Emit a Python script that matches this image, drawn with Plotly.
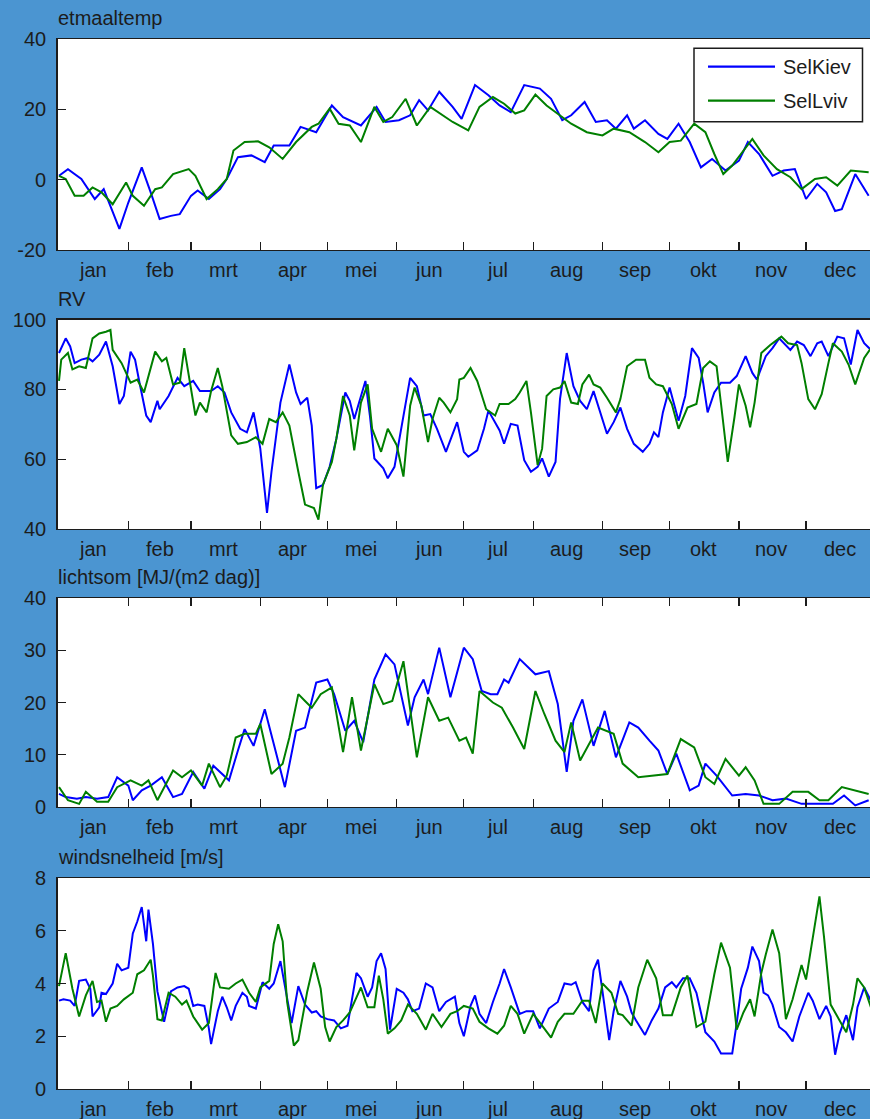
import plotly.graph_objects as go

# ---------------- data ----------------
months = ["jan", "feb", "mrt", "apr", "mei", "jun", "jul", "aug", "sep", "okt", "nov", "dec"]
month_start = [1, 32, 60, 91, 121, 152, 182, 213, 244, 274, 305, 335]
month_mid = [16, 46, 74.5, 105.5, 136, 166.5, 197, 228, 258.5, 289, 319.5, 350]
series_names = ["SelKiev", "SelLviv"]

# etmaaltemp
temp_kiev_day = [1, 5, 11, 17, 21, 28, 32, 38, 42, 46, 51, 55, 60, 63, 68, 73, 76, 81, 87, 93,
                 97, 104, 109, 116, 123, 128, 136, 143, 147, 153, 158, 162, 166, 171, 177, 181,
                 187, 193, 198, 203, 209, 216, 221, 226, 230, 236, 241, 246, 250, 255, 258, 263,
                 269, 273, 278, 283, 288, 293, 299, 305, 309, 314, 320, 325, 330, 335, 340, 344,
                 348, 351, 357, 363]
temp_kiev = [1.1, 3, 0.2, -5.5, -2.7, -14, -6.5, 3.5, -3.6, -11.2, -10.3, -9.8, -4.6, -3.1, -5.5,
             -2.7, 0.2, 6.4, 6.9, 5, 9.7, 9.7, 15, 13.5, 21.1, 17.8, 15.4, 20.7, 16.4, 16.9, 18.3,
             22.6, 19.7, 25, 20.7, 17.3, 26.9, 24, 21.1, 19.2, 26.9, 25.9, 23, 16.9, 18.3, 22.1,
             16.4, 16.9, 14.5, 18.3, 14.5, 16.9, 13, 11.6, 15.9, 10.7, 3.5, 5.9, 2.6, 5.4, 10.7,
             7.3, 1.1, 2.6, 3, -5.5, -1.2, -3.6, -8.9, -8.4, 1.6, -4.6]
temp_lviv_day = [1, 4, 8, 12, 16, 20, 25, 31, 34, 39, 44, 47, 52, 59, 62, 67, 72, 76, 79, 84,
                 90, 95, 101, 107, 114, 117, 122, 126, 131, 136, 142, 146, 150, 156, 161, 167,
                 177, 184, 189, 195, 200, 205, 209, 214, 219, 224, 230, 237, 244, 249, 256, 263,
                 269, 274, 279, 285, 290, 294, 298, 302, 311, 316, 322, 328, 333, 339, 344, 349,
                 355, 363]
temp_lviv = [1.1, 0.2, -4.6, -4.6, -2.2, -3.6, -7, -0.8, -4.6, -7.4, -2.7, -2.2, 1.6, 3, 1.1,
             -5.5, -2.7, 0.2, 8.3, 10.7, 10.9, 9.2, 5.9, 10.7, 15, 15.9, 20.2, 15.9, 15.4, 10.7,
             20.7, 16.4, 17.8, 23, 15.4, 20.7, 16.4, 14, 20.7, 23.5, 21.6, 18.8, 19.7, 24.2, 21.1,
             18.8, 15.9, 13.5, 12.6, 14.5, 13.5, 10.7, 7.8, 10.7, 11.1, 15.9, 13.5, 7.3, 1.6, 4,
             11.6, 6.9, 3, 0.7, -2.7, 0.2, 0.7, -1.7, 2.6, 2.1]

# RV
rv_kiev_day = [1, 4, 6, 8, 11, 14, 16, 19, 22, 25, 28, 30, 33, 35, 37, 40, 42, 45, 46, 50, 54,
               57, 61, 64, 69, 72, 75, 78, 82, 85, 88, 91, 94, 96, 100, 104, 107, 109, 112, 114,
               116, 119, 122, 125, 129, 131, 133, 138, 140, 142, 146, 148, 151, 155, 158, 161,
               164, 167, 170, 174, 179, 182, 184, 188, 191, 193, 196, 198, 200, 203, 206, 209,
               212, 215, 217, 220, 223, 225, 228, 231, 234, 237, 240, 243, 246, 249, 252, 255,
               258, 262, 265, 267, 269, 271, 274, 278, 281, 284, 287, 289, 291, 294, 297, 301,
               304, 308, 311, 313, 317, 320, 323, 328, 331, 334, 337, 340, 342, 345, 349, 352,
               355, 358, 361, 364]
rv_kiev = [90.4, 94.6, 92.3, 87.5, 88.5, 89, 88, 89.9, 93.7, 86.6, 75.8, 78.1, 90.8, 88.5, 81.9,
           72.5, 70.6, 76.7, 74.3, 78.1, 83.3, 80.9, 82.4, 79.5, 79.5, 80.9, 79.1, 73.4, 68.7,
           67.7, 73.4, 63, 44.6, 56.4, 76.2, 87.1, 79.1, 75.8, 77.6, 69.6, 51.7, 52.6, 57.8,
           65.8, 79.1, 76.7, 71.5, 82.4, 72.5, 60.2, 57.4, 54.5, 57.8, 72.5, 83.3, 80.9, 72.5,
           72.9, 68.7, 62.1, 70.6, 62.1, 60.7, 62.5, 68.7, 73.9, 70.6, 68.2, 64.4, 70.1, 69.6,
           59.7, 56.4, 57.8, 60.2, 55, 59.2, 77.2, 90.4, 80.9, 76.7, 74.3, 79.5, 73.4, 67.3,
           70.6, 74.8, 68.7, 64.4, 62.1, 64.4, 67.7, 66.3, 73.4, 80.5, 71, 78.1, 91.8, 89, 81.9,
           73.4, 79.1, 81.9, 81.9, 83.8, 89.5, 84.7, 82.8, 89.5, 91.8, 94.6, 91.3, 93.7, 92.7,
           89.5, 93.2, 93.7, 89.5, 95.1, 94.6, 87.1, 97, 93.2, 91.3]
rv_lviv_day = [1, 2, 5, 7, 10, 13, 16, 19, 22, 24, 25, 29, 33, 36, 39, 42, 44, 47, 49, 52, 55,
               57, 59, 62, 64, 67, 69, 72, 74, 76, 78, 81, 85, 89, 92, 95, 98, 101, 104, 108,
               111, 115, 117, 119, 123, 125, 128, 131, 133, 136, 139, 141, 145, 148, 152, 155,
               158, 160, 163, 166, 168, 171, 173, 176, 179, 180, 182, 185, 188, 192, 196, 198,
               202, 205, 207, 210, 212, 215, 217, 219, 222, 225, 227, 230, 233, 235, 238, 240,
               243, 246, 250, 252, 255, 259, 263, 265, 268, 271, 275, 278, 282, 286, 289, 292,
               295, 297, 300, 303, 305, 308, 310, 312, 315, 319, 324, 327, 331, 333, 336, 339,
               342, 345, 347, 351, 354, 357, 361, 364]
rv_lviv = [82.4, 88.5, 90.4, 85.7, 86.6, 86.1, 94.6, 96, 96.5, 97, 91.3, 87.5, 81.9, 82.8, 79.1,
           86.6, 90.8, 88, 89, 81.4, 81.9, 91.8, 83.8, 72.5, 76.2, 73.4, 79.5, 86.1, 80.9, 74.3,
           66.8, 64.4, 64.9, 66.3, 64.4, 71.5, 70.6, 73.4, 69.6, 56.4, 47, 46, 42.7, 52.6, 59.2,
           65.8, 78.1, 72.5, 62.5, 76.2, 81.4, 68.7, 62.1, 68.7, 64, 55, 75.3, 80.5, 75.3, 64.9,
           71.5, 77.6, 76.2, 73.4, 77.2, 82.8, 83.3, 86.1, 82.4, 74.3, 72.5, 75.8, 75.8, 77.2,
           79.1, 82.4, 73.4, 58.3, 63, 78.1, 80, 80.5, 82.4, 76.2, 75.8, 81.4, 84.2, 81.4, 80.5,
           77.6, 73.4, 77.2, 86.6, 88.5, 88.5, 83.3, 81.4, 80.9, 75.8, 68.7, 74.8, 75.8, 86.1,
           88, 86.6, 75.8, 59.2, 72, 81.4, 75.3, 69.1, 76.2, 90.4, 92.7, 95.1, 93.2, 92.7, 87.5,
           77.2, 74.3, 78.6, 87.5, 93.2, 90.8, 87.1, 81.4, 89, 91.8]

# lichtsom [MJ/(m2 dag)]
light_kiev_day = [1, 4, 9, 13, 18, 23, 27, 32, 34, 38, 42, 47, 52, 56, 61, 66, 70, 74, 77, 81,
                  84, 88, 93, 97, 102, 107, 111, 116, 121, 124, 129, 133, 137, 142, 147, 151,
                  157, 160, 164, 166, 171, 176, 182, 186, 190, 194, 197, 200, 202, 207, 214,
                  220, 224, 228, 231, 235, 240, 245, 250, 256, 260, 265, 269, 273, 277, 283,
                  287, 290, 295, 302, 308, 314, 320, 326, 333, 340, 347, 352, 357, 363]
light_kiev = [2.5, 1.9, 1.6, 1.9, 1.6, 1.9, 5.7, 4.1, 1.3, 3.2, 4.1, 5.7, 1.9, 2.5, 6.7, 3.5,
              7.9, 6.3, 5.1, 10.8, 14.9, 11.7, 18.7, 12.1, 3.8, 14.6, 15.2, 23.8, 24.4, 21.6,
              14.6, 16.5, 12.4, 24.4, 29.2, 27.3, 15.6, 21, 24.4, 21.6, 30.5, 21, 30.5, 28.3,
              22.2, 21.6, 21.6, 24.4, 23.8, 28.3, 25.4, 26, 19.7, 6.7, 16.5, 20.6, 11.7, 18.4,
              9.5, 16.2, 15.2, 12.7, 10.8, 6.3, 10.2, 3.2, 4.1, 8.3, 6, 2.2, 2.5, 2.2, 1.3, 1.6,
              0.6, 0.6, 0.6, 2.2, 0.3, 1.3]
light_lviv_day = [1, 5, 10, 13, 18, 23, 27, 33, 38, 41, 45, 52, 56, 60, 65, 68, 73, 76, 80, 84,
                  89, 91, 96, 101, 104, 108, 111, 114, 118, 123, 128, 132, 136, 142, 146, 150,
                  155, 161, 166, 171, 175, 180, 183, 186, 189, 195, 199, 204, 209, 214, 218,
                  223, 227, 230, 234, 242, 249, 253, 260, 267, 273, 279, 285, 290, 294, 299,
                  305, 308, 312, 316, 323, 329, 336, 341, 345, 351, 357, 363]
light_lviv = [3.8, 1.3, 0.6, 2.9, 1, 1, 3.8, 5.1, 4.1, 5.1, 1.3, 7, 5.7, 7, 4.1, 8.3, 3.8, 6,
              13.3, 14, 14, 15.9, 6.3, 8.3, 13.3, 21.6, 20.3, 19, 21.6, 22.9, 10.5, 21, 10.8,
              23.5, 19.7, 20.3, 27.9, 9.5, 21, 16.5, 17.1, 12.7, 13.3, 10.2, 22.2, 20, 19, 15.2,
              11.1, 22.2, 17.8, 12.7, 10.5, 16.2, 8.9, 15.2, 14, 8.3, 5.7, 6, 6.3, 13, 11.4, 5.7,
              4.4, 9.2, 6, 7.6, 5.1, 0.6, 0.6, 2.9, 2.9, 1.3, 1.3, 3.8, 3.2, 2.5]

# windsnelheid [m/s]
wind_kiev_day = [1, 3, 6, 8, 10, 13, 15, 16, 19, 20, 22, 25, 27, 29, 32, 34, 36, 38, 40, 41, 43,
                 45, 48, 51, 54, 57, 59, 61, 63, 66, 68, 69, 72, 74, 76, 78, 80, 83, 85, 86, 89,
                 92, 95, 97, 100, 102, 105, 108, 111, 114, 116, 118, 121, 124, 127, 130, 132,
                 134, 136, 139, 141, 143, 145, 147, 149, 152, 155, 157, 159, 162, 165, 168, 171,
                 174, 178, 180, 182, 185, 187, 189, 192, 195, 198, 200, 203, 207, 210, 213, 216,
                 220, 224, 227, 230, 232, 235, 238, 240, 242, 244, 247, 249, 252, 255, 257, 259,
                 263, 266, 269, 272, 275, 277, 280, 283, 286, 290, 294, 297, 302, 304, 306, 309,
                 311, 314, 316, 318, 320, 323, 326, 329, 332, 336, 338, 341, 344, 346, 348, 350,
                 353, 356, 358, 361, 364]
wind_kiev = [3.35, 3.4, 3.35, 3.15, 4.1, 4.15, 3.8, 2.75, 3.1, 3.65, 3.6, 4, 4.75, 4.5, 4.6,
             5.9, 6.35, 6.9, 5.6, 6.8, 5.5, 3.7, 2.55, 3.7, 3.85, 3.9, 3.8, 3.15, 3.2, 3.15, 2.3,
             1.7, 2.95, 3.5, 3.1, 2.6, 3.15, 3.65, 3.5, 3.15, 3.05, 4.05, 3.8, 4, 4.85, 3.85,
             2.5, 3.9, 3.2, 2.9, 2.95, 2.75, 2.65, 2.6, 2.3, 2.4, 3.35, 4.4, 4.2, 3.5, 3.85, 4.85,
             5.15, 4.55, 2.25, 3.8, 3.65, 3.4, 2.95, 3.05, 4, 3.85, 2.95, 3.3, 3.5, 2.5, 2,
             3.15, 3.55, 2.85, 2.5, 3.3, 4, 4.55, 3.85, 2.85, 2.95, 2.95, 2.3, 3.05, 3.3, 4,
             3.95, 4.05, 3.3, 2.95, 4.5, 4.9, 3.7, 1.85, 2.95, 4.1, 3.5, 2.9, 2.6, 2.05, 2.6,
             3.05, 3.85, 4.05, 3.85, 4.2, 4.2, 3.65, 2.15, 1.8, 1.35, 1.35, 2.5, 3.8, 4.6, 5.4,
             4.85, 3.65, 3.55, 3.2, 2.35, 2.15, 1.8, 2.75, 3.65, 3.35, 2.65, 3.15, 2.75, 1.3,
             2.1, 2.8, 1.85, 3.1, 3.85, 3.35]
wind_lviv_day = [1, 2, 4, 7, 10, 13, 16, 18, 20, 22, 24, 27, 30, 34, 36, 39, 42, 43, 45, 47, 50,
                 53, 56, 58, 61, 65, 68, 71, 73, 77, 80, 83, 86, 89, 91, 95, 97, 99, 101, 103,
                 106, 108, 112, 115, 118, 120, 122, 125, 128, 131, 136, 139, 142, 144, 146, 148,
                 151, 154, 157, 161, 165, 168, 172, 176, 179, 182, 186, 189, 193, 197, 200, 203,
                 206, 209, 213, 217, 221, 224, 227, 231, 235, 238, 241, 244, 248, 251, 253, 257,
                 260, 264, 268, 271, 275, 279, 282, 286, 290, 294, 297, 301, 304, 307, 310, 312,
                 315, 317, 320, 323, 326, 329, 333, 335, 338, 341, 343, 346, 350, 353, 356, 358,
                 361, 364]
wind_lviv = [3.9, 4.35, 5.15, 3.8, 2.75, 3.55, 4.1, 3.3, 3.35, 2.55, 3.05, 3.15, 3.4, 3.65,
             4.35, 4.5, 4.9, 4.3, 2.65, 2.6, 3.65, 3.5, 3.2, 3.35, 2.75, 2.25, 2.5, 4.4, 3.85,
             3.8, 4, 4.15, 3.65, 3.3, 3.85, 4.1, 5.5, 6.25, 5.6, 3.3, 1.65, 1.85, 3.7, 4.8, 3.8,
             2.35, 1.8, 2.35, 2.6, 2.9, 3.85, 3.1, 3.1, 4.3, 3.4, 2.1, 2.3, 2.6, 3.2, 2.85, 2.25,
             2.85, 2.35, 2.85, 2.95, 3.15, 3.05, 2.55, 2.3, 2.1, 2.4, 3.15, 2.85, 2.1, 2.85, 2.4,
             1.95, 2.55, 2.85, 2.85, 3.35, 3.35, 2.5, 4, 3.65, 2.85, 2.8, 2.4, 3.85, 4.9, 4.2,
             2.8, 2.8, 3.85, 4.3, 2.35, 2.55, 4.35, 5.55, 4.6, 2.25, 2.9, 3.4, 2.75, 4.4, 5.1,
             6.05, 5.15, 2.65, 3.4, 4.7, 4.15, 5.8, 7.3, 5.8, 3.2, 2.6, 2.15, 3.2, 4.2, 3.85,
             3.1]

panel_titles = ["etmaaltemp", "RV", "lichtsom [MJ/(m2 dag)]", "windsnelheid [m/s]"]
y_tickvals = [[-20, 0, 20, 40], [40, 60, 80, 100], [0, 10, 20, 30, 40], [0, 2, 4, 6, 8]]
y_ticktext = [["-20", "0", "20", "40"], ["40", "60", "80", "100"],
              ["0", "10", "20", "30", "40"], ["0", "2", "4", "6", "8"]]
y_ranges = [[-20, 40], [40, 100], [0, 40], [0, 8]]

# ---------------- layout / style ----------------
W, H = 870, 1119
BG = "#4b95d1"
INK = "#1c1c1c"
COLORS = ["#0000ff", "#007f00"]
FONT = "Liberation Sans, Arial, sans-serif"
FS = 20
X_LEFT = 57.5                               # px, left edge of every axes box
PANEL_TOP = [39, 319.5, 598, 878]           # px
PANEL_BOT = [250, 529, 807, 1089]           # px
X_RANGE = [0.33, 363.6]                     # day-of-year at left / right edge (right edge is cropped)

def py(p):  # pixel row -> paper y
    return 1 - p / H

def px(p):  # pixel column -> paper x
    return p / W

data = [
    (temp_kiev_day, temp_kiev, temp_lviv_day, temp_lviv),
    (rv_kiev_day, rv_kiev, rv_lviv_day, rv_lviv),
    (light_kiev_day, light_kiev, light_lviv_day, light_lviv),
    (wind_kiev_day, wind_kiev, wind_lviv_day, wind_lviv),
]

fig = go.Figure()
annotations = []
layout_axes = {}

for i in range(4):
    sfx = "" if i == 0 else str(i + 1)
    kd, kv, ld, lv = data[i]
    for (dd, vv), name, col in zip([(kd, kv), (ld, lv)], series_names, COLORS):
        fig.add_trace(go.Scatter(
            x=dd, y=vv, mode="lines", name=name, showlegend=False,
            line=dict(color=col, width=2),
            xaxis="x" + sfx, yaxis="y" + sfx, hoverinfo="skip"))

    layout_axes["xaxis" + sfx] = dict(
        domain=[px(X_LEFT), 1], range=X_RANGE, anchor="y" + sfx, automargin=False,
        tickmode="array", tickvals=month_start[1:], ticktext=[""] * 11,
        ticks="inside", ticklen=8, tickwidth=1.3, tickcolor=INK,
        showline=True, linecolor=INK, linewidth=1.3,
        mirror=("ticks" if i == 2 else True),
        showgrid=False, zeroline=False, fixedrange=True)
    layout_axes["yaxis" + sfx] = dict(
        domain=[py(PANEL_BOT[i]), py(PANEL_TOP[i])], range=y_ranges[i], anchor="x" + sfx,
        automargin=False,
        tickmode="array", tickvals=y_tickvals[i], ticktext=y_ticktext[i],
        ticks="inside", ticklen=8, tickwidth=1.3, tickcolor=INK,
        tickfont=dict(family=FONT, size=FS, color=INK), ticklabelstandoff=6,
        showline=True, linecolor=INK, linewidth=1.3, mirror=False,
        showgrid=False, zeroline=False, fixedrange=True)

    # panel title
    annotations.append(dict(
        text=panel_titles[i], xref="paper", yref="paper",
        x=px(X_LEFT - 2), y=py(PANEL_TOP[i] - 21), xanchor="left", yanchor="middle",
        showarrow=False, font=dict(family=FONT, size=FS, color=INK)))
    # month labels, centred in each month
    for m, xm in zip(months, month_mid):
        annotations.append(dict(
            text=m, xref="x" + sfx, yref="paper", x=xm, y=py(PANEL_BOT[i] + 20),
            xanchor="center", yanchor="middle", showarrow=False,
            font=dict(family=FONT, size=FS, color=INK)))

# legend box drawn by hand (MATLAB style, long line samples)
LEG = dict(x0=694, x1=862.5, y0=48.3, y1=121.7)
shapes = [dict(type="rect", xref="paper", yref="paper", layer="above",
               x0=px(LEG["x0"]), x1=px(LEG["x1"]), y0=py(LEG["y1"]), y1=py(LEG["y0"]),
               line=dict(color=INK, width=1.5), fillcolor="white")]
for name, col, yy in zip(series_names, COLORS, [66.7, 100.7]):
    shapes.append(dict(type="line", xref="paper", yref="paper", layer="above",
                       x0=px(708), x1=px(775), y0=py(yy), y1=py(yy),
                       line=dict(color=col, width=2.2)))
    annotations.append(dict(text=name, xref="paper", yref="paper", x=px(781), y=py(yy),
                            xanchor="left", yanchor="middle", showarrow=False,
                            font=dict(family=FONT, size=FS, color=INK)))

fig.update_layout(
    width=W, height=H, autosize=False,
    margin=dict(l=0, r=0, t=0, b=0, pad=0, autoexpand=False),
    paper_bgcolor=BG, plot_bgcolor="white",
    font=dict(family=FONT, size=FS, color=INK),
    showlegend=False,
    annotations=annotations, shapes=shapes,
    **layout_axes)

fig.write_html("out.html", config={"displayModeBar": False, "staticPlot": True},
               post_script="document.body.style.margin='0';document.body.style.overflow='hidden';")
